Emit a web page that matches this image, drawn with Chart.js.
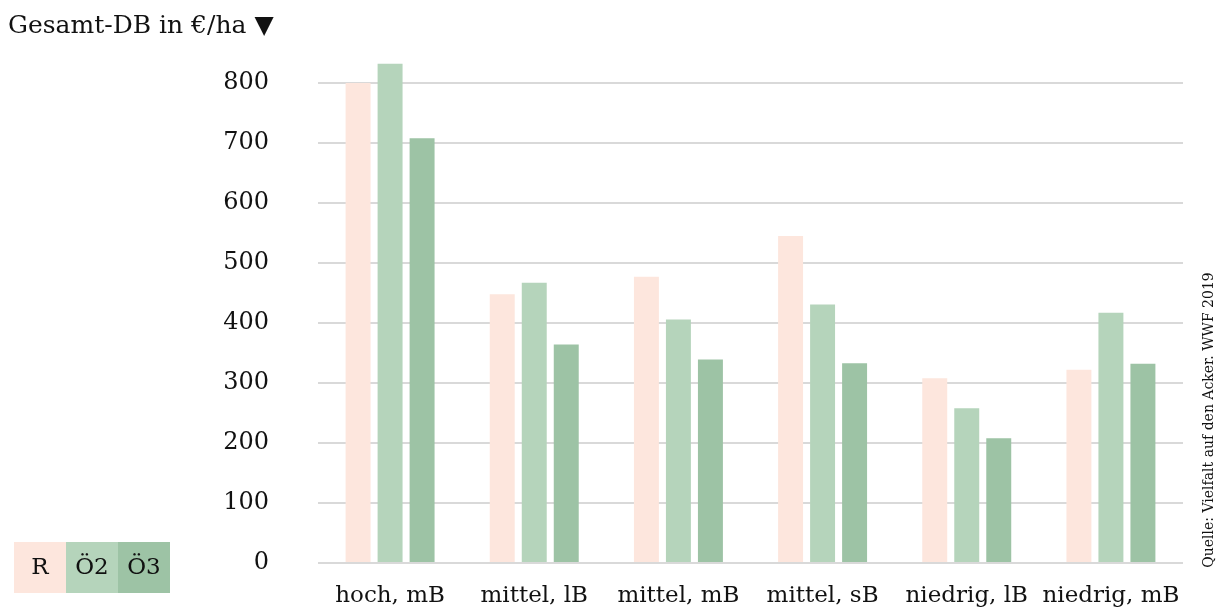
<!DOCTYPE html>
<html lang="de">
<head>
<meta charset="utf-8">
<title>Gesamt-DB in €/ha</title>
<script src="https://cdn.jsdelivr.net/npm/chart.js@4/dist/chart.umd.min.js"></script>
<style>
  html, body { margin: 0; padding: 0; background: #ffffff; }
  #wrap { width: 1221px; height: 611px; }
</style>
</head>
<body>
<div id="wrap"><canvas id="c" width="1221" height="611"></canvas></div>
<script>
// Standorte (Ertragsniveau, Bodenart)
const categories = ['hoch, mB', 'mittel, lB', 'mittel, mB', 'mittel, sB', 'niedrig, lB', 'niedrig, mB'];

// Gesamt-Deckungsbeitrag in €/ha je Fruchtfolge
const seriesR  = [800, 448, 477, 545, 308, 322];
const seriesO2 = [832, 467, 406, 431, 258, 417];
const seriesO3 = [708, 364, 339, 333, 208, 332];

const seriesNames = ['R', 'Ö2', 'Ö3'];
const yTicks = [0, 100, 200, 300, 400, 500, 600, 700, 800];

const axisTitle = 'Gesamt-DB in €/ha ▼';
const sourceNote = 'Quelle: Vielfalt auf den Acker. WWF 2019';

const FONT = "'DejaVu Serif', 'Liberation Serif', serif";
const INK = '#111111';
const palette = ['#fde6dd', '#b5d4bb', '#9dc3a5'];

// Title, block legend and rotated source line drawn onto the canvas
const decorations = {
  id: 'decorations',
  afterDraw(chart) {
    const ctx = chart.ctx;
    ctx.save();
    ctx.fillStyle = INK;
    ctx.font = '25px ' + FONT;
    ctx.textAlign = 'left';
    ctx.textBaseline = 'alphabetic';
    ctx.fillText(axisTitle, 8, 33);

    // legend blocks
    const boxW = 52, boxH = 51, x0 = 14, y0 = 542;
    chart.data.datasets.forEach((ds, i) => {
      const x = x0 + i * boxW;
      ctx.fillStyle = ds.backgroundColor;
      ctx.fillRect(x, y0, boxW, boxH);
      ctx.fillStyle = INK;
      ctx.font = '23px ' + FONT;
      ctx.textAlign = 'center';
      ctx.textBaseline = 'middle';
      ctx.fillText(ds.label, x + boxW / 2, y0 + boxH / 2 + 1);
    });

    // source note, reading bottom to top
    ctx.translate(1209, 420);
    ctx.rotate(-Math.PI / 2);
    ctx.font = '14px ' + FONT;
    ctx.textAlign = 'center';
    ctx.textBaseline = 'middle';
    ctx.fillStyle = INK;
    ctx.fillText(sourceNote, 0, 0);
    ctx.restore();
  }
};

new Chart(document.getElementById('c'), {
  type: 'bar',
  data: {
    labels: categories,
    datasets: [
      { label: seriesNames[0], data: seriesR,  backgroundColor: palette[0] },
      { label: seriesNames[1], data: seriesO2, backgroundColor: palette[1] },
      { label: seriesNames[2], data: seriesO3, backgroundColor: palette[2] }
    ]
  },
  options: {
    responsive: false,
    animation: false,
    devicePixelRatio: 1,
    layout: { padding: { top: 53, right: 38, bottom: 0, left: 0 } },
    datasets: {
      bar: { categoryPercentage: 0.666, barPercentage: 0.78, borderWidth: 0 }
    },
    plugins: {
      legend: { display: false },
      title: { display: false },
      tooltip: { enabled: false }
    },
    scales: {
      x: {
        grid: { display: false, drawTicks: false },
        border: { display: false },
        ticks: {
          color: INK,
          font: { family: FONT, size: 23 },
          padding: 19,
          maxRotation: 0,
          autoSkip: false
        },
        afterFit(scale) {
          scale.height = 48;
          scale.paddingLeft = 0;
          scale.paddingRight = 0;
        }
      },
      y: {
        min: 0,
        max: 850,
        grid: { color: '#d9d9d9', lineWidth: 2, drawTicks: false },
        border: { display: false },
        afterBuildTicks(scale) { scale.ticks = yTicks.map(v => ({ value: v })); },
        ticks: {
          color: INK,
          font: { family: FONT, size: 24 },
          padding: 49
        },
        afterFit(scale) {
          scale.width = 318;
          scale.paddingTop = 0;
          scale.paddingBottom = 0;
        }
      }
    }
  },
  plugins: [decorations]
});
</script>
</body>
</html>
